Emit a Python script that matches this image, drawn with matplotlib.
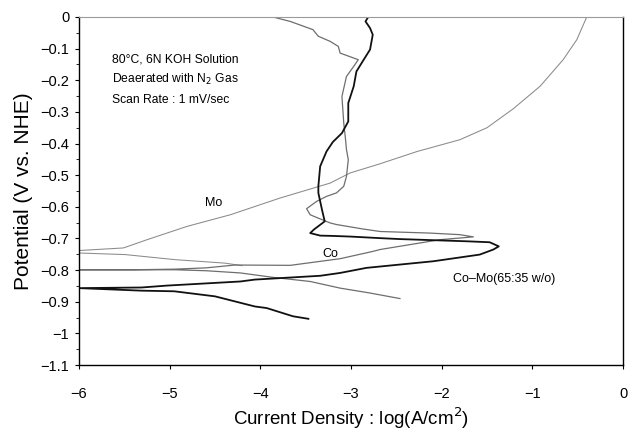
import matplotlib
matplotlib.use("Agg")
import matplotlib.pyplot as plt
from matplotlib.ticker import FixedLocator, MultipleLocator

# Polarization curves: log current density (A/cm^2) vs potential (V vs. NHE)
# Co-Mo alloy (65:35 w/o): cathodic end -> Ecorr -> anodic end
como_logi = [-3.47, -3.64, -3.93, -4.06, -4.50, -4.95, -5.31, -6.00,
             -5.31, -5.03, -4.22, -4.06, -3.34, -3.12, -2.83, -2.09, -1.58,
             -1.43, -1.37, -1.47, -1.72, -2.46, -2.68, -3.01, -3.20, -3.34,
             -3.45, -3.41, -3.29, -3.32, -3.36, -3.36, -3.34, -3.27, -3.20,
             -3.10, -3.03, -3.03, -2.97, -2.94, -2.86, -2.79, -2.76, -2.79,
             -2.84, -2.81]
como_pot = [-0.954, -0.946, -0.920, -0.915, -0.883, -0.867, -0.865, -0.857,
            -0.855, -0.849, -0.836, -0.830, -0.818, -0.809, -0.793, -0.772,
            -0.751, -0.735, -0.725, -0.712, -0.709, -0.702, -0.699, -0.694,
            -0.692, -0.691, -0.683, -0.672, -0.646, -0.609, -0.556, -0.535,
            -0.472, -0.425, -0.395, -0.367, -0.330, -0.272, -0.219, -0.172,
            -0.135, -0.103, -0.056, -0.035, -0.014, 0.000]

# Co
co_logi = [-2.46, -2.80, -3.12, -3.45, -3.86, -4.22, -4.60, -4.94, -5.40,
           -6.00, -5.40, -4.94, -4.60, -4.28, -3.67, -3.12, -2.76, -2.68,
           -2.02, -1.65, -1.80, -2.13, -2.68, -2.87, -3.16, -3.23, -3.41,
           -3.45, -3.49, -3.38, -3.27, -3.16, -3.08, -3.05, -3.03, -3.05,
           -3.06, -3.08, -3.10, -3.05, -2.97, -2.92, -3.12, -3.14, -3.23,
           -3.36, -3.42, -3.67, -3.86]
co_pot = [-0.890, -0.872, -0.857, -0.836, -0.823, -0.809, -0.802, -0.799,
          -0.799, -0.799, -0.799, -0.797, -0.793, -0.784, -0.785, -0.764,
          -0.741, -0.735, -0.704, -0.695, -0.688, -0.683, -0.678, -0.670,
          -0.656, -0.651, -0.630, -0.625, -0.606, -0.583, -0.567, -0.556,
          -0.535, -0.504, -0.451, -0.419, -0.388, -0.335, -0.251, -0.188,
          -0.156, -0.135, -0.114, -0.093, -0.077, -0.061, -0.040, -0.014,
          0.000]

# Mo
mo_logi = [-4.20, -4.39, -4.94, -5.49, -6.00, -5.99, -5.51, -5.25, -4.81,
           -4.33, -3.78, -3.23, -3.01, -2.68, -2.27, -1.80, -1.50, -1.21,
           -0.915, -0.66, -0.51, -0.40]
mo_pot = [-0.786, -0.778, -0.767, -0.751, -0.746, -0.738, -0.730, -0.704,
          -0.662, -0.625, -0.572, -0.525, -0.493, -0.464, -0.425, -0.388,
          -0.350, -0.290, -0.219, -0.135, -0.072, 0.000]

x_ticks = [-6, -5, -4, -3, -2, -1, 0]
x_tick_labels = ["\u22126", "\u22125", "\u22124", "\u22123", "\u22122", "\u22121", "0"]
y_ticks = [0, -0.1, -0.2, -0.3, -0.4, -0.5, -0.6, -0.7, -0.8, -0.9, -1.0, -1.1]
y_tick_labels = ["0", "\u22120.1", "\u22120.2", "\u22120.3", "\u22120.4", "\u22120.5",
                 "\u22120.6", "\u22120.7", "\u22120.8", "\u22120.9", "\u22121", "\u22121.1"]

plt.rcParams["font.family"] = ["Liberation Sans", "DejaVu Sans"]

fig = plt.figure(figsize=(6.29, 4.33), dpi=100)
ax = fig.add_axes([79 / 629, 1 - 365 / 433, 544 / 629, 348 / 433])

ax.plot(mo_logi, mo_pot, color="#8a8a8a", lw=0.75, solid_joinstyle="round")
ax.plot(co_logi, co_pot, color="#6e6e6e", lw=0.9, solid_joinstyle="round")
ax.plot(como_logi, como_pot, color="#111111", lw=1.3, solid_joinstyle="round")

ax.set_xlim(-6, 0)
ax.set_ylim(-1.1, 0)

ax.xaxis.set_major_locator(FixedLocator(x_ticks))
ax.set_xticklabels(x_tick_labels)
ax.yaxis.set_major_locator(FixedLocator(y_ticks))
ax.set_yticklabels(y_tick_labels)
ax.yaxis.set_minor_locator(MultipleLocator(0.05))
ax.tick_params(axis="both", which="major", direction="out", length=3,
               width=0.8, labelsize=10.5, colors="black")
ax.tick_params(axis="x", which="major", pad=13)
ax.tick_params(axis="y", which="major", pad=4)
ax.tick_params(axis="y", which="minor", direction="out", length=2, width=0.6)

for side in ("left", "bottom", "right"):
    ax.spines[side].set_color("black")
    ax.spines[side].set_linewidth(1.0)
ax.spines["top"].set_color("#9a9a9a")
ax.spines["top"].set_linewidth(0.8)

ax.set_xlabel("Current Density : log(A/cm$^2$)", fontsize=13.5, labelpad=3)
ax.set_ylabel("Potential (V vs. NHE)", fontsize=15, labelpad=5)

ann_font = ["Liberation Sans", "DejaVu Sans"]
ax.text(-5.64, -0.135, "80\u00b0C, 6N KOH Solution", fontsize=8.7,
        family=ann_font, va="center", ha="left")
ax.text(-5.64, -0.198, "Deaerated with N$_2$ Gas", fontsize=8.7,
        family=ann_font, va="center", ha="left")
ax.text(-5.64, -0.261, "Scan Rate : 1 mV/sec", fontsize=8.7,
        family=ann_font, va="center", ha="left")

ax.text(-4.52, -0.587, "Mo", fontsize=9, family=ann_font, ha="center", va="center")
ax.text(-3.23, -0.748, "Co", fontsize=9, family=ann_font, ha="center", va="center")
ax.text(-1.87, -0.827, "Co\u2013Mo(65:35 w/o)", fontsize=9, family=ann_font,
        ha="left", va="center")

fig.savefig("out.png", dpi=100)
